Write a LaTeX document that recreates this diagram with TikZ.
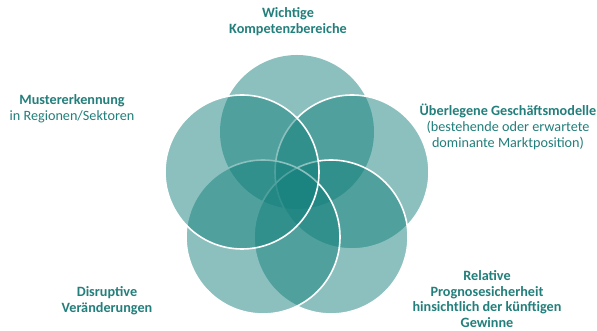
\documentclass[tikz,border=0pt]{standalone}
\usepackage{fontspec}
\setmainfont{Carlito}
\usetikzlibrary{positioning}
\definecolor{petalteal}{RGB}{20,128,124}
\definecolor{labelteal}{RGB}{34,127,123}
\tikzstyle{petal} = [circle, minimum size=154pt, inner sep=0pt, fill=petalteal, fill opacity=0.49]
\tikzstyle{ringed} = [petal, draw=white, draw opacity=1, line width=1.6pt]
\tikzstyle{lbl} = [align=center, text=labelteal, inner sep=0pt, font=\fontsize{14.2}{15.8}\selectfont\bfseries]

\begin{document}
\begin{tikzpicture}[x=1pt, y=1pt]
		\fill[white] (0,0) rectangle (597,331);
		% the five circles, drawn from back to front
		\node (kompetenz) [petal] at (297,199) {};
		\node (modell) [ringed] at (352,159) {};
		\node (prognose) [ringed] at (331,94) {};
		\node (disrupt) [ringed] at (263,94) {};
		\node (muster) [ringed] at (242,159) {};
		% labels
		\node (kompetenztxt) [lbl] at (288,309) {Wichtige\\Kompetenzbereiche};
		\node (mustertxt) [lbl] at (72,222) {Mustererkennung\\\mdseries in Regionen/Sektoren};
		\node (modelltxt) [lbl] at (508,204) {Überlegene Geschäftsmodelle\\\mdseries (bestehende oder erwartete\\\mdseries dominante Marktposition)};
		\node (prognosetxt) [lbl] at (487,32) {Relative\\Prognosesicherheit\\hinsichtlich der künftigen\\Gewinne};
		\node (disrupttxt) [lbl] at (107,30) {Disruptive\\Veränderungen};
\end{tikzpicture}
\end{document}
